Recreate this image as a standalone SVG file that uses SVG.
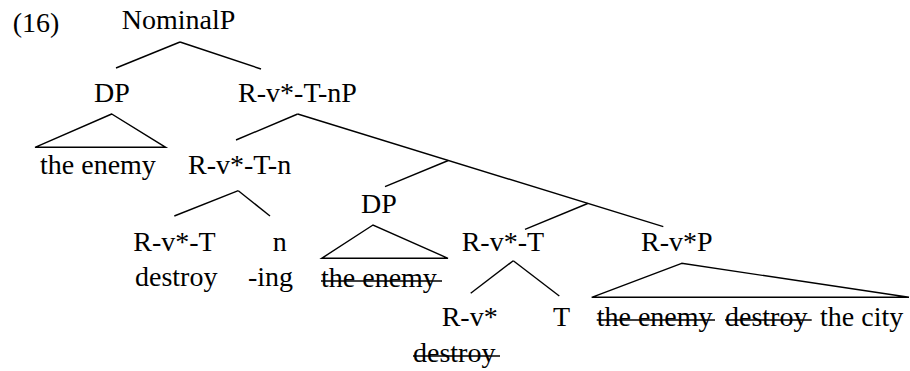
<svg xmlns="http://www.w3.org/2000/svg" width="910" height="371" viewBox="0 0 910 371" font-family="'Liberation Serif', 'Times New Roman', serif" font-size="28">
<style>
text { font-family: 'Liberation Serif', 'Times New Roman', serif; font-size: 28px; fill: #000; }
.ln { stroke: #000; stroke-width: 1.4; fill: none; }
.tri { stroke: #000; stroke-width: 1.4; fill: none; stroke-linejoin: miter; }
.strike { stroke: #000; stroke-width: 1.6; }
</style>
<rect width="910" height="371" fill="#fff"/>
<g id="label"><text x="12.7" y="32">(16)</text></g>
<g id="connectors">
<line class="ln" x1="180" y1="42" x2="116" y2="68"/>
<line class="ln" x1="180" y1="42" x2="261" y2="69"/>
<line class="ln" x1="297.7" y1="114" x2="236" y2="140"/>
<line class="ln" x1="297.7" y1="114" x2="663.3" y2="226.7"/>
<line class="ln" x1="238.3" y1="190.7" x2="174.3" y2="216"/>
<line class="ln" x1="238.3" y1="190.7" x2="270" y2="216"/>
<line class="ln" x1="448.3" y1="160.5" x2="385" y2="186.7"/>
<line class="ln" x1="587.7" y1="203.5" x2="525" y2="229.3"/>
<line class="ln" x1="513.3" y1="260.7" x2="470.7" y2="293.3"/>
<line class="ln" x1="513.3" y1="260.7" x2="559.3" y2="296"/>
<polygon class="tri" points="111.7,114 35,147.3 165.7,147.3"/>
<polygon class="tri" points="373,225 321.7,258.3 448,258.3"/>
<polygon class="tri" points="681.7,263.3 591.7,297.3 909,297.3"/>
</g>
<g id="n-NominalP"><text x="178.5" y="29" text-anchor="middle">NominalP</text></g>
<g id="n-DP1"><text x="112" y="102" text-anchor="middle">DP</text></g>
<g id="n-RvTnP"><text x="297.5" y="102" text-anchor="middle">R-v*-T-nP</text></g>
<g id="n-the-enemy1"><text x="40" y="174">the enemy</text></g>
<g id="n-RvTn"><text x="239.6" y="174" text-anchor="middle">R-v*-T-n</text></g>
<g id="n-DP2"><text x="379" y="213" text-anchor="middle">DP</text></g>
<g id="n-RvT1"><text x="133.3" y="250.5">R-v*-T</text><text x="135" y="286">destroy</text></g>
<g id="n-n"><text x="272.7" y="250.5">n</text><text x="248" y="286">-ing</text></g>
<g id="n-the-enemy2"><text x="321" y="287">the enemy</text><line class="strike" x1="321" y1="281" x2="442" y2="281"/></g>
<g id="n-RvT2"><text x="461.7" y="250.5">R-v*-T</text></g>
<g id="n-RvP"><text x="641" y="250.5">R-v*P</text></g>
<g id="n-Rv"><text x="441.7" y="325.5">R-v*</text><text x="413" y="361.5">destroy</text><line class="strike" x1="413" y1="356" x2="500" y2="356"/></g>
<g id="n-T"><text x="553" y="325.5">T</text></g>
<g id="n-RvP-yield">
<text x="596.7" y="325.5">the enemy</text><line class="strike" x1="596.7" y1="320" x2="715" y2="320"/>
<text x="725" y="325.5">destroy</text><line class="strike" x1="725" y1="320" x2="811.7" y2="320"/>
<text x="820" y="325.5">the city</text>
</g>
</svg>
